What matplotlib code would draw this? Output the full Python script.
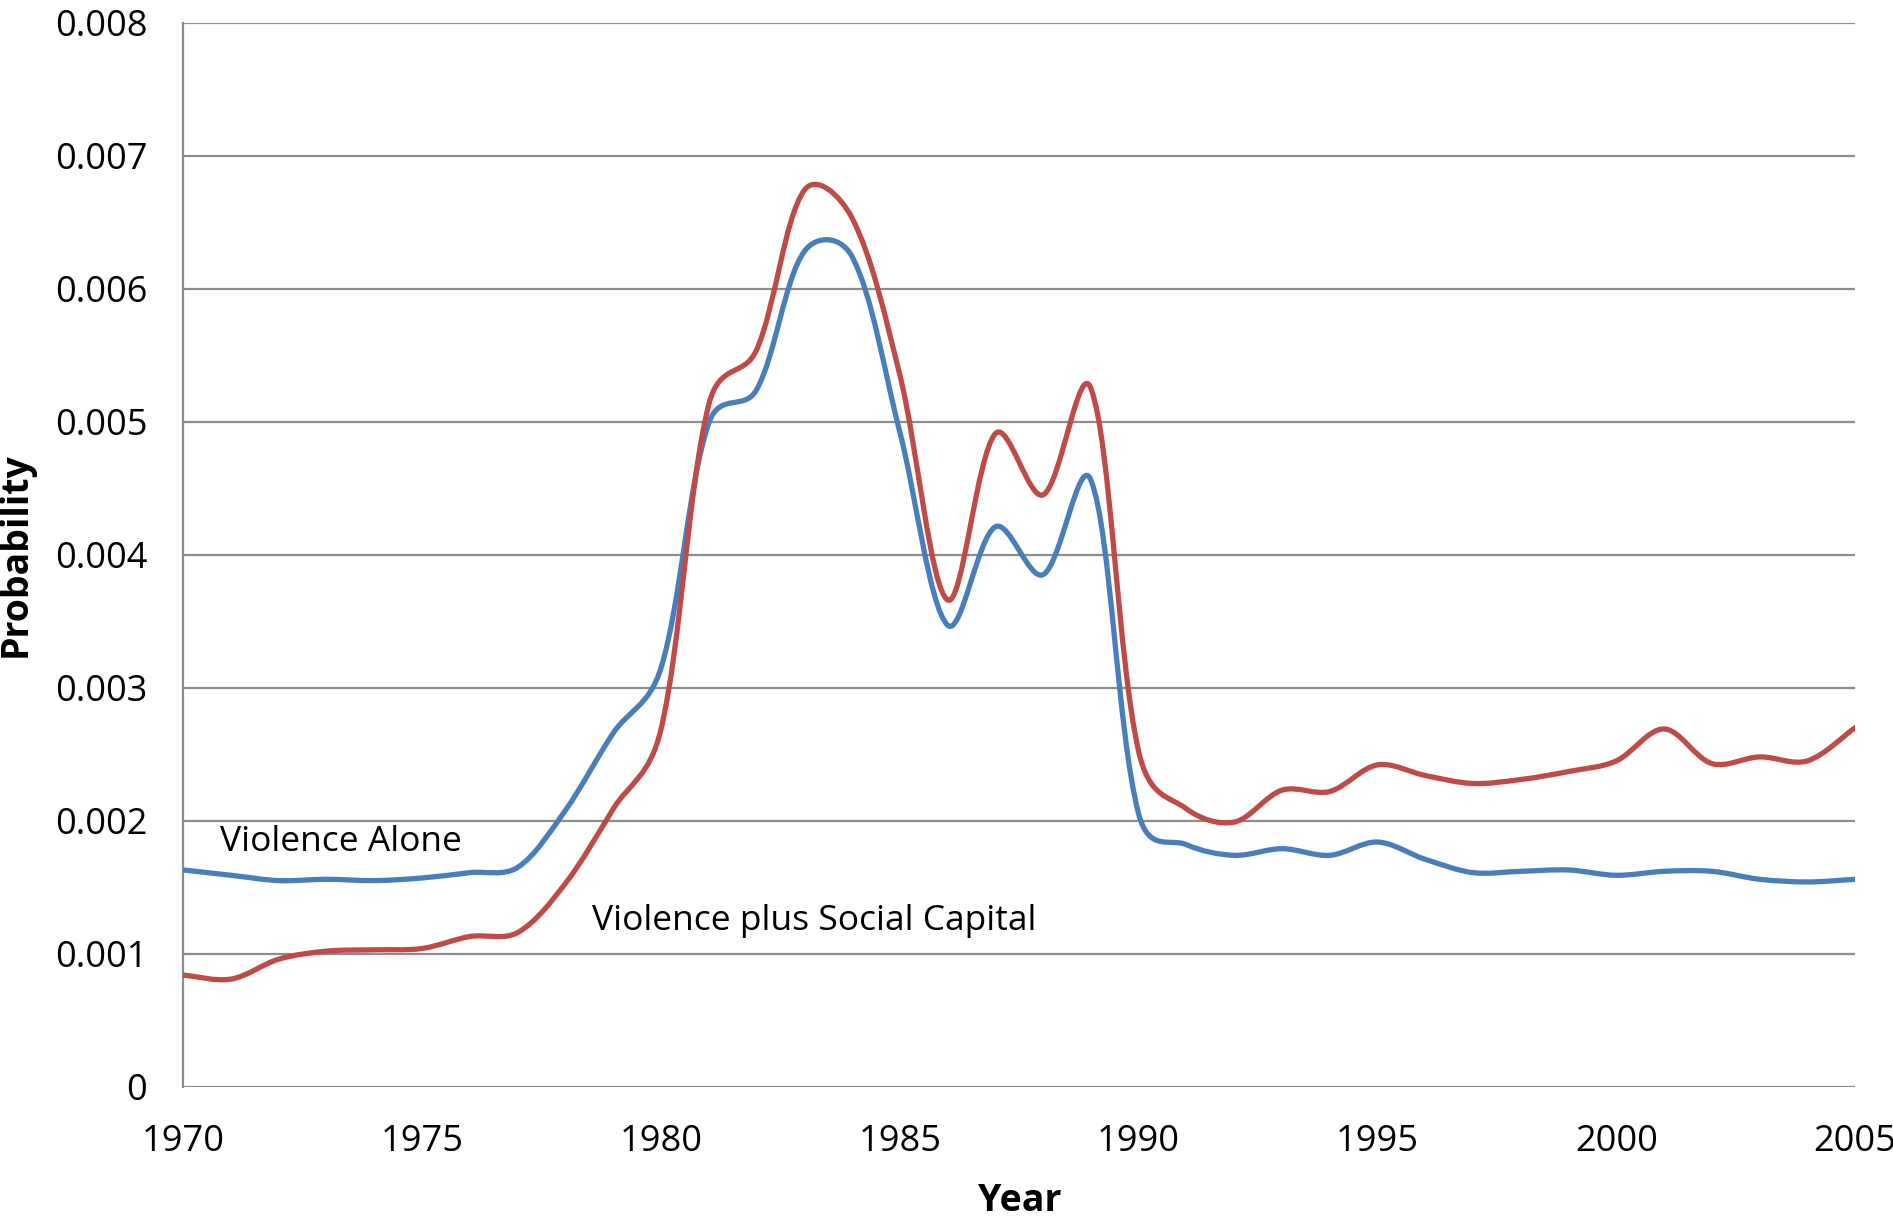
## probability over time, two model variants (excel-style smoothed lines)

import numpy as np
import matplotlib
matplotlib.use("Agg")
import matplotlib.pyplot as plt
from matplotlib.path import Path
from matplotlib.patches import PathPatch
from matplotlib import rcParams

rcParams.update({"font.family": ["Open Sans", "DejaVu Sans"], "font.size": 26})

years = list(range(1970, 2006))

# values, in units of 0.001
violence_alone = [1.63, 1.59, 1.55, 1.56, 1.55, 1.57, 1.61, 1.65, 2.08, 2.66,
                  3.15, 4.99, 5.24, 6.28, 6.24, 4.92, 3.47, 4.21, 3.85, 4.56,
                  2.05, 1.82, 1.74, 1.79, 1.74, 1.84, 1.71, 1.61, 1.62, 1.63,
                  1.59, 1.62, 1.62, 1.56, 1.54, 1.56]
violence_social = [0.84, 0.81, 0.96, 1.02, 1.03, 1.04, 1.13, 1.16, 1.53, 2.09,
                   2.69, 5.13, 5.54, 6.74, 6.53, 5.35, 3.66, 4.91, 4.45, 5.25,
                   2.52, 2.09, 1.99, 2.23, 2.22, 2.42, 2.34, 2.28, 2.31, 2.37,
                   2.45, 2.69, 2.43, 2.48, 2.45, 2.70]

yticks = [0, 0.001, 0.002, 0.003, 0.004, 0.005, 0.006, 0.007, 0.008]
ytick_labels = ["0", "0.001", "0.002", "0.003", "0.004", "0.005", "0.006", "0.007", "0.008"]
xticks = [1970, 1975, 1980, 1985, 1990, 1995, 2000, 2005]

BLUE = "#4a7ebb"
RED = "#be4b48"
GRID = "#8c8c8c"


def smooth_path(ax, x, y):
    """bezier through the points; control arms are half catmull-rom, half
    weighted by on-screen segment length (close to excel's smoothed line)"""
    pts = np.column_stack([x, y]).astype(float)
    scr = ax.transData.transform(pts)
    n = len(pts)
    verts = [tuple(pts[0])]
    codes = [Path.MOVETO]
    for i in range(n - 1):
        p0, p1 = pts[max(i - 1, 0)], pts[i]
        p2, p3 = pts[i + 1], pts[min(i + 2, n - 1)]
        s0, s1 = scr[max(i - 1, 0)], scr[i]
        s2, s3 = scr[i + 1], scr[min(i + 2, n - 1)]
        d01 = np.hypot(*(s1 - s0))
        d12 = np.hypot(*(s2 - s1))
        d23 = np.hypot(*(s3 - s2))
        a = d12 / (3 * (d01 + d12)) if d01 + d12 > 0 else 0
        b = d12 / (3 * (d12 + d23)) if d12 + d23 > 0 else 0
        a = 0.5 * a + 1 / 12
        b = 0.5 * b + 1 / 12
        c1 = p1 + (p2 - p0) * a
        c2 = p2 - (p3 - p1) * b
        verts += [tuple(c1), tuple(c2), tuple(p2)]
        codes += [Path.CURVE4] * 3
    return Path(verts, codes)


fig = plt.figure(figsize=(18.93, 12.18), dpi=100)
ax = fig.add_axes([0.0969, 0.1077, 0.8831, 0.8738])
ax.set_xlim(1970, 2005)
ax.set_ylim(0, 0.008)

for vals, col in [(violence_alone, BLUE), (violence_social, RED)]:
    p = smooth_path(ax, years, np.array(vals) / 1000.0)
    ax.add_patch(PathPatch(p, facecolor="none", edgecolor=col, lw=3.8,
                           capstyle="round", joinstyle="round", zorder=3))

ax.set_yticks(yticks)
ax.set_yticklabels(ytick_labels)
ax.set_xticks(xticks)
ax.tick_params(length=0, colors="black")
ax.tick_params(axis="x", pad=27)
ax.tick_params(axis="y", pad=26)
ax.grid(axis="y", color=GRID, lw=1.6)
ax.set_axisbelow(True)
for s in ["top", "right", "bottom"]:
    ax.spines[s].set_visible(False)
ax.spines["left"].set_color(GRID)
ax.spines["left"].set_linewidth(1.6)

ax.set_xlabel("Year", fontweight="bold", fontsize=27)
ax.set_ylabel("Probability", fontweight="bold", fontsize=27)
ax.xaxis.set_label_coords(0.5, -0.089)
ax.yaxis.set_label_coords(-0.089, 0.5)

ax.text(1970.76, 0.00184, "Violence Alone", va="center", ha="left", fontsize=25.5)
ax.text(1978.55, 0.001246, "Violence plus Social Capital", va="center", ha="left", fontsize=25.5)

fig.savefig("out.png", dpi=100)
